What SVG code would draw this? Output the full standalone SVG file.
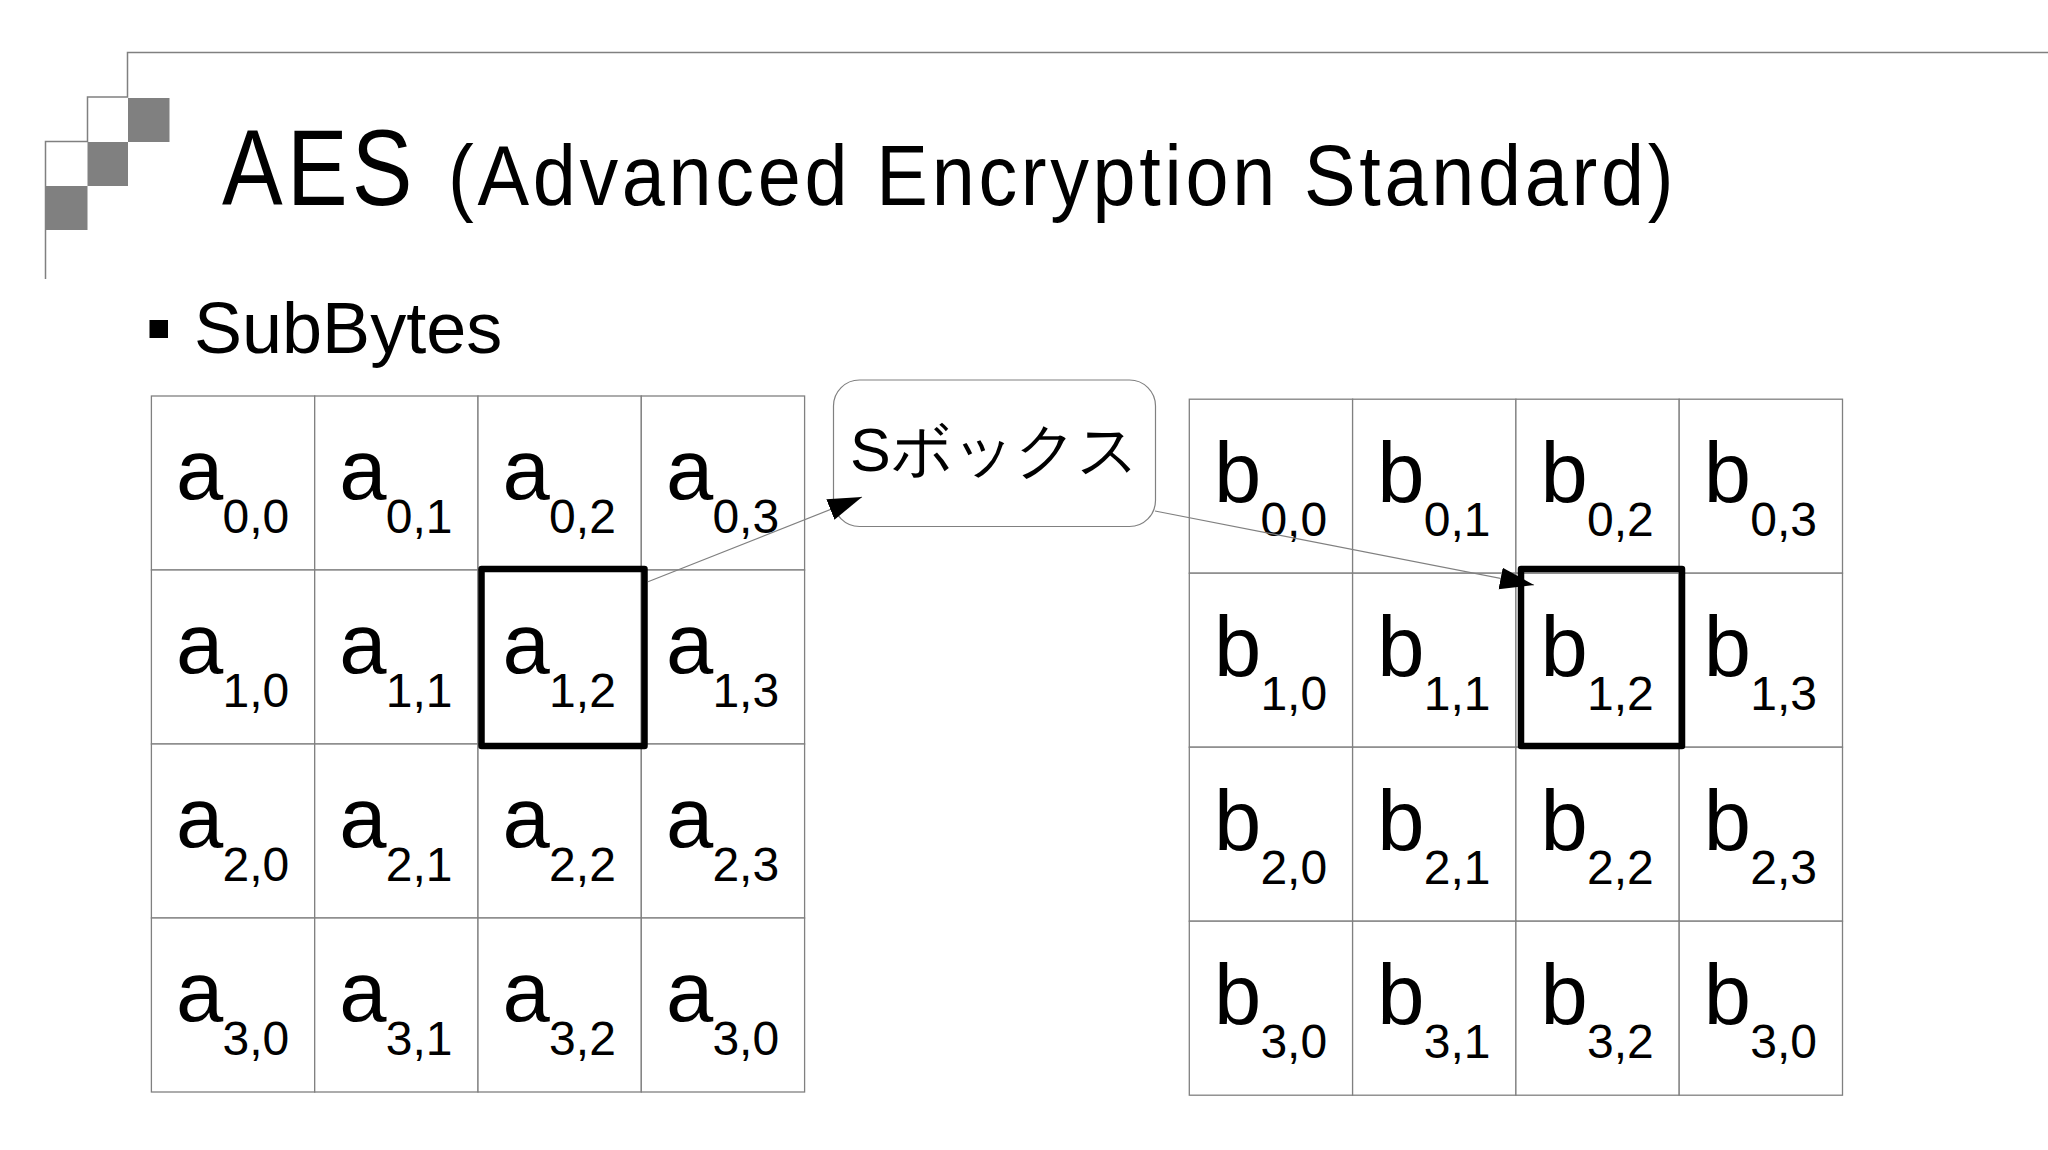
<svg xmlns="http://www.w3.org/2000/svg" width="2048" height="1150" viewBox="0 0 2048 1150">
<style>
text{fill:#000;font-family:"Liberation Sans",Arial,sans-serif}
.g{fill:#fff;stroke:#808080;stroke-width:1.3}
.m{font-size:85px}
.s{font-size:48px}
.h{fill:none;stroke:#000;stroke-width:6.5;stroke-linejoin:round}
.d{fill:#808080}
.f{fill:none;stroke:#808080;stroke-width:1.5}
.c{stroke:#808080;stroke-width:1.2;fill:none;marker-end:url(#ah)}
</style>
<defs>
<marker id="ah" markerUnits="userSpaceOnUse" markerWidth="34" markerHeight="24" refX="34" refY="12" orient="auto"><path d="M0 1 L34 12 L0 23 Z" fill="#000"/></marker>
<g id="ca"><rect class="g" width="163.3" height="174"/></g>
</defs>
<rect width="2048" height="1150" fill="#fff"/>
<g id="frame">
<path class="f" d="M2048 52.5H127.5V97H87.5V141.5H45.5V279"/>
<rect class="d" x="128" y="98" width="41.5" height="44"/>
<rect class="d" x="87.5" y="142" width="40.5" height="44"/>
<rect class="d" x="45.5" y="186" width="42" height="44"/>
</g>
<g id="title">
<text transform="translate(222 205) scale(.85 1)" font-size="107" letter-spacing="5">AES</text>
<text transform="translate(448 205) scale(.9 1)" font-size="86" letter-spacing="4.1">(Advanced Encryption Standard)</text>
</g>
<g id="bullet">
<rect x="149.5" y="320" width="18.5" height="18" fill="#000"/>
<text x="194" y="353" font-size="72">SubBytes</text>
</g>
<g id="matrix-a">
<use href="#ca" x="151.4" y="396"/><use href="#ca" x="314.7" y="396"/><use href="#ca" x="478" y="396"/><use href="#ca" x="641.3" y="396"/>
<use href="#ca" x="151.4" y="570"/><use href="#ca" x="314.7" y="570"/><use href="#ca" x="478" y="570"/><use href="#ca" x="641.3" y="570"/>
<use href="#ca" x="151.4" y="744"/><use href="#ca" x="314.7" y="744"/><use href="#ca" x="478" y="744"/><use href="#ca" x="641.3" y="744"/>
<use href="#ca" x="151.4" y="918"/><use href="#ca" x="314.7" y="918"/><use href="#ca" x="478" y="918"/><use href="#ca" x="641.3" y="918"/>
<text class="m" x="176" y="499">a</text><text class="s" x="222.5" y="533">0,0</text>
<text class="m" x="339.3" y="499">a</text><text class="s" x="385.8" y="533">0,1</text>
<text class="m" x="502.6" y="499">a</text><text class="s" x="549.1" y="533">0,2</text>
<text class="m" x="665.9" y="499">a</text><text class="s" x="712.4" y="533">0,3</text>
<text class="m" x="176" y="673">a</text><text class="s" x="222.5" y="707">1,0</text>
<text class="m" x="339.3" y="673">a</text><text class="s" x="385.8" y="707">1,1</text>
<text class="m" x="502.6" y="673">a</text><text class="s" x="549.1" y="707">1,2</text>
<text class="m" x="665.9" y="673">a</text><text class="s" x="712.4" y="707">1,3</text>
<text class="m" x="176" y="847">a</text><text class="s" x="222.5" y="881">2,0</text>
<text class="m" x="339.3" y="847">a</text><text class="s" x="385.8" y="881">2,1</text>
<text class="m" x="502.6" y="847">a</text><text class="s" x="549.1" y="881">2,2</text>
<text class="m" x="665.9" y="847">a</text><text class="s" x="712.4" y="881">2,3</text>
<text class="m" x="176" y="1021">a</text><text class="s" x="222.5" y="1055">3,0</text>
<text class="m" x="339.3" y="1021">a</text><text class="s" x="385.8" y="1055">3,1</text>
<text class="m" x="502.6" y="1021">a</text><text class="s" x="549.1" y="1055">3,2</text>
<text class="m" x="665.9" y="1021">a</text><text class="s" x="712.4" y="1055">3,0</text>
</g>
<g id="matrix-b">
<use href="#ca" x="1189.3" y="399.2"/><use href="#ca" x="1352.6" y="399.2"/><use href="#ca" x="1515.9" y="399.2"/><use href="#ca" x="1679.2" y="399.2"/>
<use href="#ca" x="1189.3" y="573.2"/><use href="#ca" x="1352.6" y="573.2"/><use href="#ca" x="1515.9" y="573.2"/><use href="#ca" x="1679.2" y="573.2"/>
<use href="#ca" x="1189.3" y="747.2"/><use href="#ca" x="1352.6" y="747.2"/><use href="#ca" x="1515.9" y="747.2"/><use href="#ca" x="1679.2" y="747.2"/>
<use href="#ca" x="1189.3" y="921.2"/><use href="#ca" x="1352.6" y="921.2"/><use href="#ca" x="1515.9" y="921.2"/><use href="#ca" x="1679.2" y="921.2"/>
<text class="m" x="1213.9" y="502">b</text><text class="s" x="1260.4" y="536">0,0</text>
<text class="m" x="1377.2" y="502">b</text><text class="s" x="1423.7" y="536">0,1</text>
<text class="m" x="1540.5" y="502">b</text><text class="s" x="1587" y="536">0,2</text>
<text class="m" x="1703.8" y="502">b</text><text class="s" x="1750.3" y="536">0,3</text>
<text class="m" x="1213.9" y="676">b</text><text class="s" x="1260.4" y="710">1,0</text>
<text class="m" x="1377.2" y="676">b</text><text class="s" x="1423.7" y="710">1,1</text>
<text class="m" x="1540.5" y="676">b</text><text class="s" x="1587" y="710">1,2</text>
<text class="m" x="1703.8" y="676">b</text><text class="s" x="1750.3" y="710">1,3</text>
<text class="m" x="1213.9" y="850">b</text><text class="s" x="1260.4" y="884">2,0</text>
<text class="m" x="1377.2" y="850">b</text><text class="s" x="1423.7" y="884">2,1</text>
<text class="m" x="1540.5" y="850">b</text><text class="s" x="1587" y="884">2,2</text>
<text class="m" x="1703.8" y="850">b</text><text class="s" x="1750.3" y="884">2,3</text>
<text class="m" x="1213.9" y="1024">b</text><text class="s" x="1260.4" y="1058">3,0</text>
<text class="m" x="1377.2" y="1024">b</text><text class="s" x="1423.7" y="1058">3,1</text>
<text class="m" x="1540.5" y="1024">b</text><text class="s" x="1587" y="1058">3,2</text>
<text class="m" x="1703.8" y="1024">b</text><text class="s" x="1750.3" y="1058">3,0</text>
</g>
<g id="sbox">
<rect x="833.5" y="380" width="322" height="146.5" rx="26" ry="26" fill="#fff" stroke="#808080" stroke-width="1.2"/>
<text x="850" y="471" font-size="61" font-family="'Liberation Sans','Noto Sans CJK JP',sans-serif">Sボックス</text>
</g>
<g id="highlight-a"><rect class="h" x="481.5" y="569" width="163" height="177"/></g>
<g id="highlight-b"><rect class="h" x="1521" y="569" width="161" height="177"/></g>
<g id="connectors">
<path class="c" d="M648 581.7L862 497"/>
<path class="c" d="M1155 511L1534 585"/>
</g>
</svg>
